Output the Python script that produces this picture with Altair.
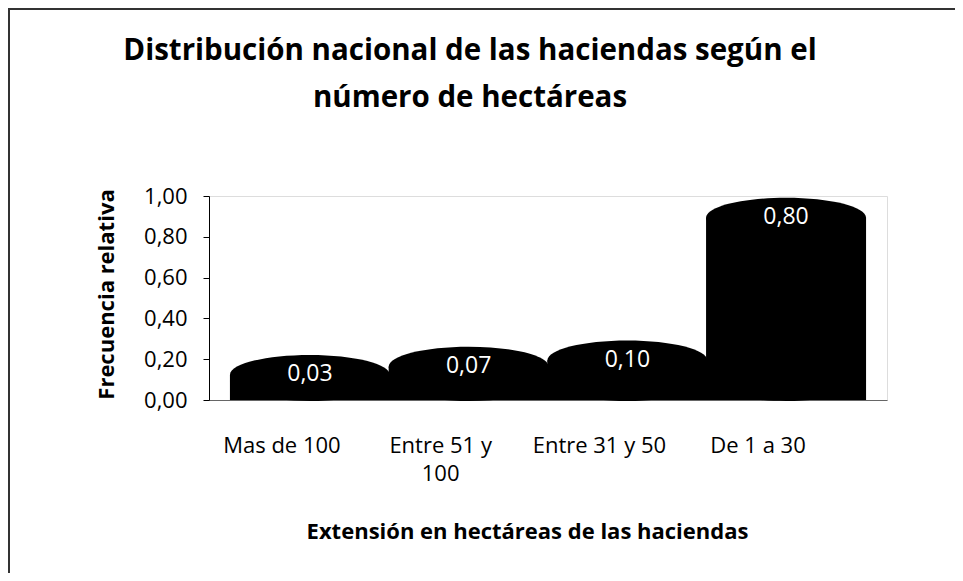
import altair as alt
import pandas as pd

categorias = ["Mas de 100", "Entre 51 y 100", "Entre 31 y 50", "De 1 a 30"]
valores = [0.03, 0.07, 0.10, 0.80]
etiquetas = ["0,03", "0,07", "0,10", "0,80"]
ticks_y = [0.0, 0.2, 0.4, 0.6, 0.8, 1.0]

titulo = ["Distribución nacional de las haciendas según el", "número de hectáreas"]
titulo_y = "Frecuencia relativa"
titulo_x = "Extensión en hectáreas de las haciendas"

df = pd.DataFrame({"cat": categorias, "val": valores, "lab": etiquetas})

FONT = "Open Sans"
ELLIPSE = "M-1,0A1,0.25,0,1,0,1,0A1,0.25,0,1,0,-1,0Z"
W = 160
SZ = W * W
SHIFT = -19
PW, PH = 678, 204

x_scale = alt.Scale(paddingInner=0, paddingOuter=0.136)
y_scale = alt.Scale(domain=[0, 1], nice=False)

x_enc = alt.X(
    "cat:N",
    sort=categorias,
    scale=x_scale,
    axis=alt.Axis(
        title=titulo_x,
        labelAngle=0,
        labelFont=FONT,
        labelFontSize=22,
        labelColor="black",
        labelPadding=35,
        labelOffset=-28,
        labelExpr="datum.label == 'Entre 51 y 100' ? ['Entre 51 y', '100'] : datum.label",
        labelLineHeight=28,
        ticks=False,
        domain=True,
        domainColor="#666666",
        domainWidth=1,
        titleFont=FONT,
        titleFontSize=22,
        titleFontWeight="bold",
        titleColor="black",
        titleX=318,
        titleY=138,
        titleBaseline="alphabetic",
    ),
)

base = alt.Chart(df)

body = base.mark_bar(size=W, color="black", yOffset=SHIFT).encode(
    x=x_enc,
    y=alt.Y(
        "val:Q",
        scale=y_scale,
        axis=alt.Axis(
            title=titulo_y,
            values=ticks_y,
            labelExpr="replace(format(datum.value, '.2f'), '.', ',')",
            labelFont=FONT,
            labelFontSize=22,
            labelColor="black",
            labelPadding=16,
            tickSize=6,
            tickColor="black",
            domainColor="black",
            grid=False,
            titleFont=FONT,
            titleFontSize=22,
            titleFontWeight="bold",
            titleColor="black",
            titleX=-96,
            titleY=98,
            titleBaseline="alphabetic",
        ),
    ),
    y2=alt.datum(0),
)

bottom = base.mark_point(
    shape=ELLIPSE, size=SZ, filled=True, color="black", opacity=1, yOffset=SHIFT
).encode(x=alt.X("cat:N", sort=categorias, scale=x_scale), y=alt.datum(0))

top = base.mark_point(
    shape=ELLIPSE, size=SZ, filled=True, color="black", opacity=1, yOffset=SHIFT
).encode(x=alt.X("cat:N", sort=categorias, scale=x_scale), y=alt.Y("val:Q", scale=y_scale))

text = base.mark_text(
    color="white", font=FONT, fontSize=23, baseline="middle", yOffset=-20
).encode(
    x=alt.X("cat:N", sort=categorias, scale=x_scale),
    y=alt.Y("val:Q", scale=y_scale),
    text="lab:N",
)

frame_left = alt.Chart(df).mark_rule(color="#333333", strokeWidth=1.5).encode(
    x=alt.value(-200), y=alt.value(-188), y2=alt.value(377)
)
frame_top = alt.Chart(df).mark_rule(color="#333333", strokeWidth=2).encode(
    x=alt.value(-201), x2=alt.value(746), y=alt.value(-187)
)

chart = (
    alt.layer(body, bottom, top, text, frame_left, frame_top)
    .properties(
        width=PW,
        height=PH,
        autosize=alt.AutoSizeParams(type="none"),
        padding={"left": 201, "top": 188, "right": 68, "bottom": 173},
        title=alt.TitleParams(
            text=titulo,
            font=FONT,
            fontSize=29.5,
            fontWeight="bold",
            color="black",
            anchor="middle",
            frame="group",
            lineHeight=47,
            offset=-106,
            dx=-78,
        ),
    )
    .configure_view(stroke=None)
    .configure(background="white")
)

chart.save("out.html", embed_options={"renderer": "svg", "actions": False})
